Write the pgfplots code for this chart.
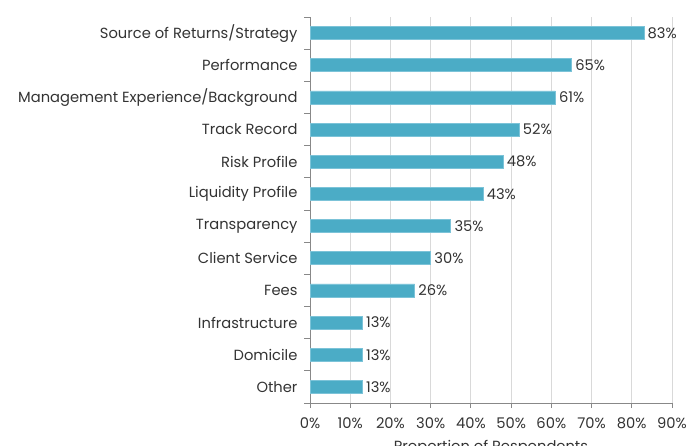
\documentclass[border=0pt]{standalone}
\usepackage{fontspec}
\setmainfont{Poppins}
\usepackage{pgfplots}
\pgfplotsset{compat=1.18}
\definecolor{barc}{HTML}{4BACC6}
\definecolor{baredge}{HTML}{7CC3D8}
\definecolor{axgray}{HTML}{888888}
\definecolor{gridc}{HTML}{D9D9D9}
\definecolor{txt}{HTML}{333333}
\begin{document}
\begin{tikzpicture}
\begin{axis}[
  at={(310pt,43pt)}, anchor=south west,
  width=362pt, height=386pt, scale only axis,
  xbar, bar width=13pt,
  xmin=0, xmax=90, ymin=-0.5, ymax=11.5,
  axis x line*=bottom, axis y line*=left,
  axis line style={-, draw=axgray, line width=0.8pt},
  xtick={0,10,...,90},
  xticklabel={\pgfmathprintnumber{\tick}\%},
  /pgf/number format/assume math mode=true,
  xmajorgrids, grid style={gridc, line width=0.8pt},
  tick align=outside, major tick length=5pt,
  minor tick length=6pt,
  tick style={draw=axgray, line width=0.8pt},
  every major y tick/.append style={draw=none},
  ytick={0,...,11},
  minor ytick={-0.5,0.5,...,11.5},
  yticklabels={Other,Domicile,Infrastructure,Fees,Client Service,Transparency,Liquidity Profile,Risk Profile,Track Record,Management Experience/Background,Performance,Source of Returns/Strategy},
  tick label style={font=\fontsize{14.7}{17}\selectfont, text=txt},
  yticklabel style={xshift=-4pt},
  xticklabel style={yshift=-6pt},
  xlabel={Proportion of Respondents},
  xlabel style={font=\fontsize{14.7}{17}\selectfont, text=txt, yshift=-5pt},
  nodes near coords={\pgfmathprintnumber{\pgfplotspointmeta}\%},
  nodes near coords align=horizontal,
  every node near coord/.append style={font=\fontsize{14.7}{17}\selectfont, text=txt, inner sep=3.5pt},
]
\addplot[fill=barc, draw=baredge, line width=0.6pt] coordinates {
(13,0) (13,1) (13,2) (26,3) (30,4) (35,5) (43,6) (48,7) (52,8) (61,9) (65,10) (83,11)
};
\end{axis}
\pgfresetboundingbox
\useasboundingbox (0,0) rectangle (698pt,446pt);
\end{tikzpicture}
\end{document}
